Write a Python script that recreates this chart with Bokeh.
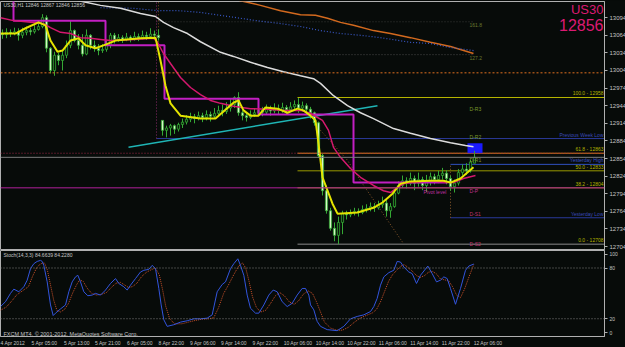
from bokeh.plotting import figure
from bokeh.models import Range1d, FixedTicker, Label, ColumnDataSource, Span
from bokeh.layouts import column
from bokeh.embed import file_html
from bokeh.resources import INLINE

# ---------------- data ----------------
symbol_title = "US30,H1  12846 12867 12846 12856"
symbol = "US30"
last_price = 12856

bar_open = [13066, 13065, 13069, 13067, 13070, 13064, 13069, 13072, 13070, 13074,
            13079, 13094, 13042, 13004, 13030, 13021, 13030, 13047, 13072, 13055,
            13047, 13032, 13064, 13047, 13042, 13038, 13040, 13047, 13064, 13057,
            13060, 13057, 13061, 13058, 13062, 13060, 13064, 13062, 13066, 13064,
            12919, 12902, 12906, 12910, 12904, 12912, 12916, 12921, 12925, 12922,
            12927, 12924, 12929, 12926, 12931, 12936, 12934, 12940, 12946, 12958,
            12932, 12927, 12924, 12929, 12932, 12936, 12933, 12938, 12935, 12939,
            12936, 12941, 12937, 12942, 12946, 12940, 12944, 12938, 12932, 12915,
            12859, 12799, 12765, 12735, 12723, 12745, 12760, 12758, 12762, 12764,
            12762, 12767, 12769, 12772, 12770, 12775, 12778, 12765, 12772, 12795,
            12808, 12816, 12812, 12820, 12812, 12818, 12808, 12815, 12823, 12818,
            12825, 12829, 12820, 12806, 12812, 12830, 12836, 12833, 12846]
bar_high = [13074, 13076, 13074, 13077, 13076, 13077, 13079, 13077, 13083, 13089,
            13100, 13098, 13044, 13036, 13034, 13038, 13055, 13089, 13074, 13066,
            13066, 13074, 13066, 13055, 13049, 13049, 13055, 13068, 13068, 13066,
            13064, 13068, 13064, 13070, 13067, 13072, 13070, 13076, 13072, 13074,
            12919, 12910, 12913, 12912, 12915, 12922, 12928, 12932, 12930, 12934,
            12932, 12936, 12934, 12940, 12944, 12946, 12950, 12955, 12960, 12967,
            12936, 12932, 12936, 12940, 12944, 12942, 12946, 12944, 12948, 12946,
            12949, 12945, 12950, 12953, 12957, 12951, 12948, 12942, 12934, 12917,
            12862, 12808, 12770, 12745, 12755, 12765, 12765, 12767, 12770, 12769,
            12774, 12776, 12779, 12778, 12782, 12789, 12786, 12778, 12800, 12815,
            12825, 12822, 12830, 12825, 12830, 12823, 12826, 12830, 12828, 12833,
            12838, 12834, 12825, 12818, 12836, 12844, 12846, 12852, 12867]
bar_low = [13058, 13059, 13061, 13064, 13055, 13059, 13064, 13064, 13067, 13072,
           13076, 13035, 12999, 12995, 13013, 13004, 13025, 13042, 13052, 13040,
           13028, 13030, 13040, 13036, 13030, 13034, 13036, 13042, 13050, 13053,
           13051, 13054, 13052, 13055, 13054, 13057, 13056, 13058, 13057, 13055,
           12893, 12890, 12893, 12896, 12900, 12906, 12912, 12916, 12914, 12919,
           12916, 12919, 12917, 12922, 12927, 12926, 12930, 12934, 12940, 12927,
           12919, 12917, 12921, 12925, 12929, 12926, 12930, 12927, 12931, 12929,
           12932, 12930, 12934, 12936, 12932, 12934, 12930, 12922, 12910, 12855,
           12791, 12760, 12731, 12713, 12708, 12725, 12750, 12754, 12757, 12755,
           12759, 12762, 12764, 12763, 12767, 12770, 12755, 12753, 12770, 12793,
           12804, 12803, 12808, 12800, 12806, 12800, 12797, 12808, 12810, 12812,
           12818, 12810, 12799, 12796, 12808, 12825, 12826, 12830, 12846]
bar_close = [13065, 13069, 13067, 13070, 13064, 13069, 13072, 13070, 13074, 13079,
             13094, 13042, 13004, 13030, 13021, 13030, 13047, 13072, 13055, 13047,
             13032, 13064, 13047, 13042, 13038, 13040, 13047, 13064, 13057, 13060,
             13057, 13061, 13058, 13062, 13060, 13064, 13062, 13066, 13064, 13060,
             12902, 12906, 12910, 12904, 12912, 12916, 12921, 12925, 12922, 12927,
             12924, 12929, 12926, 12931, 12936, 12934, 12940, 12946, 12958, 12932,
             12927, 12924, 12929, 12932, 12936, 12933, 12938, 12935, 12939, 12936,
             12941, 12937, 12942, 12946, 12940, 12944, 12938, 12932, 12915, 12859,
             12799, 12765, 12735, 12723, 12745, 12760, 12758, 12762, 12764, 12762,
             12767, 12769, 12772, 12770, 12775, 12778, 12765, 12772, 12795, 12808,
             12816, 12812, 12820, 12812, 12818, 12808, 12815, 12823, 12818, 12825,
             12829, 12820, 12806, 12812, 12830, 12836, 12833, 12848, 12856]

# fast MA (yellow)
yel_x = [-0.5, 3.25, 5.75, 9, 10.75, 12, 13.75, 15, 17, 19, 20.75, 23.25, 25.75, 28.25, 34.5,
         38.25, 39.5, 40.75, 42, 44.5, 49.5, 53.25, 57.75, 59, 60.25, 62, 64, 65.75, 68.75,
         71.25, 73.75, 75.25, 77, 78.25, 79, 80, 82.5, 83.75, 88.75, 92.75, 95, 97.5, 99.5,
         102, 107, 110.25, 112, 114.5, 117.75]
yel_y = [13067, 13067, 13076, 13086, 13081, 13055, 13036, 13038, 13055, 13059, 13047, 13042,
         13048, 13055, 13059, 13060, 13021, 12978, 12948, 12927, 12922, 12922, 12949, 12953,
         12936, 12927, 12927, 12941, 12939, 12932, 12939, 12936, 12927, 12919, 12880, 12822,
         12777, 12760, 12762, 12770, 12779, 12794, 12811, 12815, 12816, 12816, 12813, 12820,
         12839]
# medium MA (crimson)
cr_x = [-0.5, 2.75, 7.75, 10.25, 12, 14.5, 17, 19.5, 22, 24.5, 27, 32.75, 37.75, 38.75, 40.25,
        42, 44.5, 47, 49.5, 52, 54.5, 57.75, 62, 66.25, 70.25, 74.5, 77, 78.25, 80, 81.5,
        82.75, 84.5, 87, 89.5, 92.75, 95.25, 97, 98.75, 100.25, 102, 107, 111.25, 112.75,
        115.25, 118.25]
cr_y = [13094, 13089, 13086, 13084, 13077, 13069, 13067, 13060, 13059, 13057, 13055, 13057,
        13059, 13052, 13033, 13016, 12992, 12975, 12963, 12953, 12948, 12943, 12939, 12938,
        12936, 12936, 12931, 12926, 12919, 12902, 12873, 12856, 12837, 12822, 12808, 12799,
        12796, 12805, 12811, 12813, 12816, 12813, 12813, 12820, 12825]
# slow MA (white)
wh_x = [15, 19, 24.5, 29.5, 34.5, 38.25, 40.25, 42.75, 46.25, 49.5, 54.5, 57.75, 62, 66.25,
        70.25, 74.5, 77.75, 79.5, 82.75, 86.25, 89.5, 92.75, 97.75, 102, 107, 112, 115.75,
        117.75]
wh_y = [13130, 13123, 13115, 13110, 13101, 13096, 13086, 13077, 13067, 13053, 13035, 13028,
        13018, 13009, 13002, 12995, 12990, 12982, 12961, 12944, 12932, 12922, 12905, 12897,
        12888, 12881, 12876, 12874]
# very slow MA (orange)
or_x = [55, 59.5, 64.5, 69.5, 74.5, 78.25, 81.25, 84.5, 87.75, 92.75, 97, 102, 107, 112, 117.75]
or_y = [13130, 13123, 13115, 13106, 13099, 13098, 13093, 13086, 13081, 13072, 13067, 13060,
        13052, 13045, 13033]
# dotted blue MA
bl_x = [24.5, 32.75, 38.75, 43.75, 49.5, 54.5, 59.5, 64.5, 69.5, 74.5, 79.5, 84.5, 89.5,
        94.5, 102, 107, 112, 117.75]
bl_y = [13111, 13110, 13106, 13106, 13103, 13098, 13093, 13088, 13084, 13079, 13072, 13067,
        13064, 13060, 13052, 13050, 13043, 13038]
# higher-timeframe step line (magenta)
mg_x = [2.75, 2.75, 25.75, 25.75, 40.5, 40.5, 64, 64, 87.75, 87.75, 111.25]
mg_y = [13130, 13089, 13089, 13047, 13047, 12956, 12956, 12929, 12929, 12813, 12813]
# dotted brown curve
br_x = [79.5, 86.25, 89.5, 100.25]
br_y = [12902, 12851, 12816, 12709]
# trend line (cyan)
tl_x = [31.5, 93.75]
tl_y = [12873, 12944]

# levels
round_level = 13000
ask_level = 12863
pivot_level = 12804
prev_week_low = 12888
yest_high = 12844
yest_low = 12753
fib_names = ["0.0", "38.2", "50.0", "61.8", "100.0"]
fib_prices = [12708, 12804, 12833, 12863, 12958]
fib_anchor = 73.75
week_sep = 38.5
upper_prices = [13031, 13087]
upper_names = ["127.2", "161.8"]
pivot_names = ["D-R3", "D-R2", "D-R1", "D-P", "D-S1", "D-S2"]
pivot_prices = [12939, 12890, 12851, 12799, 12759, 12709]
yest_start = 112
box_x = [116.25, 120]
box_y = [12863, 12880]
price_ticks = [12704, 12734, 12764, 12794, 12824, 12854, 12884, 12914, 12944, 12974,
               13004, 13034, 13064, 13094]

# stochastic
st_x = [-0.5, 0.75, 2, 2.83, 4.08, 5.33, 6.17, 7, 7.83, 8.67,
        9.5, 9.92, 10.33, 11.17, 12, 12.67, 13.25, 14.5, 15.75, 16.58,
        17.42, 18.25, 18.83, 19.5, 20.33, 21.33, 22.42, 23.25, 24.5, 25.75,
        27, 28.25, 29.08, 30.33, 31.17, 32, 33.25, 34.5, 35.33, 36.58,
        37.42, 38.25, 39.08, 39.67, 40.33, 41.17, 42.83, 44.5, 46.17, 47.83,
        49.5, 51.17, 52.42, 53.67, 54.92, 55.75, 57, 57.83, 58.83, 59.5,
        60.33, 61.17, 62, 63.25, 64.08, 65.33, 66.58, 67.67, 68.67, 69.92,
        71.17, 72.42, 73.67, 74.92, 75.75, 76.58, 77, 77.83, 78.67, 79.5,
        81.17, 83.67, 85.33, 87, 88.67, 90.33, 92, 92.83, 93.67, 94.5,
        95.33, 96.58, 97.83, 98.67, 99.5, 100.33, 101.58, 102.42, 103.5, 104.5,
        106.33, 107.42, 108.5, 109.5, 110.33, 111.17, 112, 113.25, 114.5, 115.75,
        116.58, 117.83]
st_main = [34.4, 40.2, 50, 55, 51.9, 57.8, 65.6, 79.2, 85.1, 87.8,
           89, 87.8, 83.1, 63.6, 36.3, 23.8, 26.6, 31.6, 36.3, 51.9,
           63.6, 69.5, 71.4, 63.6, 51.9, 47.2, 48, 50, 48, 53.9,
           61.7, 67.5, 61.7, 57.8, 53.9, 59.7, 67.5, 75.3, 77.3, 78.4,
           83.1, 79.2, 55.8, 36.3, 18.8, 11, 12.9, 16, 17.6, 19.9,
           19.9, 20.7, 24.6, 51.9, 60.5, 63.6, 79.2, 85.1, 90.9, 83.1,
           71.4, 48, 32.4, 26.6, 26.6, 36.3, 48, 53.9, 51.9, 40.2,
           34.4, 38.3, 48, 55.8, 55.8, 48, 36.3, 30.5, 16.8, 11,
           7.1, 5.9, 11, 19.9, 22.7, 24.6, 28.5, 34.4, 44.1, 59.7,
           69.5, 74.5, 77.3, 87.8, 87, 81.2, 75.3, 73.4, 61.7, 71.4,
           82.3, 73.4, 63.6, 65.6, 69.5, 67.5, 55.8, 37.1, 55.8, 77.3,
           82.3, 84.66]
sg_x = [-0.5, 1, 2.5, 3.5, 5, 6.5, 7.5, 8.5, 9.5, 10.5,
        11.2, 12, 12.8, 13.6, 14.5, 15.5, 16.5, 17.5, 18.5, 19.3,
        20.2, 21.2, 22.3, 23.5, 24.8, 26, 27.2, 28.4, 29.5, 30.5,
        31.5, 32.5, 33.6, 34.8, 36, 37.2, 38.2, 39.2, 40, 40.8,
        41.8, 43, 44.8, 46.5, 48.2, 50, 51.5, 52.8, 54, 55.3,
        56.5, 57.8, 59, 60, 60.8, 61.6, 62.5, 63.5, 64.6, 65.8,
        67, 68.2, 69.3, 70.5, 71.7, 72.9, 74, 75.2, 76.4, 77.5,
        78.5, 79.5, 80.5, 82, 83.5, 85, 86.5, 88, 89.5, 91,
        92.5, 93.5, 94.5, 95.5, 96.5, 97.5, 98.5, 99.5, 100.5, 101.5,
        102.5, 103.5, 104.5, 105.5, 106.5, 107.5, 108.5, 109.5, 110.5, 111.5,
        112.5, 113.5, 114.5, 115.5, 116.5, 117.83]
st_signal = [30, 34, 42, 48, 53, 58, 70, 80, 85, 86,
             78, 60, 42, 30, 28, 31, 38, 50, 60, 66,
             64, 56, 50, 48, 49, 51, 57, 62, 63, 60,
             57, 58, 62, 70, 75, 78, 80, 72, 55, 35,
             20, 14, 14, 16, 18, 19.5, 20, 21, 33, 50,
             60, 72, 82, 86, 80, 65, 46, 33, 28, 30,
             38, 47, 51, 47, 40, 37, 41, 49, 53, 50,
             40, 28, 16, 9, 6.5, 6.5, 10, 16, 21, 24,
             27, 31, 40, 52, 64, 72, 77, 82, 84, 80,
             76, 71, 69, 71, 75, 76, 73, 67, 66, 65,
             58, 48, 45, 55, 68, 84.23]
stoch_title = "Stoch(14,3,3) 84.6639 84.2280"
copyright_text = "FXCM MT4, \u00a9 2001-2012, MetaQuotes Software Corp."
stoch_levels = [20, 80]
# time labels (positioned at the centre of each label's text)
time_ticks = [2.375, 10.5, 18.625, 26.375, 34.375, 42.25, 50.125, 57.875, 65.75, 73.875,
              81.875, 89.75, 97.625, 105.5, 113.375, 121.375]
time_labels = ["4 Apr 2012", "5 Apr 05:00", "5 Apr 13:00", "5 Apr 21:00", "6 Apr 05:00",
               "8 Apr 22:00", "9 Apr 06:00", "9 Apr 14:00", "9 Apr 22:00", "10 Apr 06:00",
               "10 Apr 14:00", "10 Apr 22:00", "11 Apr 06:00", "11 Apr 14:00", "11 Apr 22:00",
               "12 Apr 06:00"]

# ---------------- style ----------------
BG = "#070b09"
AX = "#b0b0b0"
TXT = "#c4c4c4"
FONT = "Liberation Sans"
WICK = "#34a834"
BEAR_FILL = "#d6f7c6"
BULL_FILL = "#0c180c"

x_rng = Range1d(-0.5, 150.5)


def add_label(fig, x, y, text, color, size="5px", align="left", baseline="middle",
              xo=0, yo=0, bg=None, pad=0):
    kw = {}
    if bg is not None:
        kw["background_fill_color"] = bg
        kw["padding"] = pad
    fig.add_layout(Label(x=x, y=y, text=text, text_color=color, text_font=FONT,
                         text_font_size=size, text_align=align, text_baseline=baseline,
                         x_offset=xo, y_offset=yo, **kw))


# ---------------- main price panel ----------------
p = figure(frame_width=604, frame_height=248, x_range=x_rng,
           y_range=Range1d(12698.9, 13121.6), output_backend="svg",
           toolbar_location=None, y_axis_location="right", x_axis_location=None,
           min_border_left=0, min_border_top=1, min_border_bottom=1, min_border_right=0,
           background_fill_color=BG, border_fill_color=BG, outline_line_color=AX)
p.grid.visible = False
ya = p.yaxis[0]
ya.ticker = FixedTicker(ticks=price_ticks)
ya.major_label_text_font = FONT
ya.major_label_text_font_size = "6px"
ya.major_label_text_color = TXT
ya.axis_line_color = AX
ya.major_tick_line_color = AX
ya.major_tick_in = 0
ya.major_tick_out = 3
ya.minor_tick_line_color = None
ya.major_label_standoff = 2

# full-width level lines
p.add_layout(Span(location=round_level, dimension="width", line_color="#e07020",
                  line_dash="2 2", line_width=1))
p.add_layout(Span(location=ask_level, dimension="width", line_color="#a02848",
                  line_dash="1 2", line_width=1))
p.add_layout(Span(location=last_price, dimension="width", line_color="#7c7c7c", line_width=1))
p.add_layout(Span(location=pivot_level, dimension="width", line_color="#b0209a", line_width=1))

# partial level lines
p.segment(x0=[week_sep, week_sep], y0=upper_prices, x1=[117.75, 117.75], y1=upper_prices,
          line_color=["#4a4a4a", "#3a3a3a"], line_dash="1 2", line_width=1)
p.segment(x0=[week_sep], y0=[prev_week_low], x1=[150.5], y1=[prev_week_low],
          line_color="#2a3a9a", line_width=1)
fib_cols = ["#8a8a8a", "#9a9a00", "#9a9a00", "#e0801a", "#b8b800"]
p.segment(x0=[fib_anchor] * 5, y0=fib_prices, x1=[150.5] * 5, y1=fib_prices,
          line_color=fib_cols, line_width=1)
p.segment(x0=[yest_start, yest_start], y0=[yest_high, yest_low], x1=[150.5, 150.5],
          y1=[yest_high, yest_low], line_color=["#3050c0", "#2a3a9a"], line_width=1)
p.segment(x0=[yest_start], y0=[yest_low], x1=[yest_start], y1=[yest_high],
          line_color="#8b5a2b", line_dash="1 2", line_width=1)
# week separators
p.segment(x0=[week_sep, week_sep + 0.5], y0=[prev_week_low, 13047], x1=[week_sep, week_sep + 0.5],
          y1=[13130, 13130], line_color=["#8a2a6a", "#7a4a20"], line_dash="1 2", line_width=1)

# blue box
p.quad(left=[box_x[0]], right=[box_x[1]], bottom=[box_y[0]], top=[box_y[1]],
       fill_color="#1a1aff", line_color=None)

# candles
idx = list(range(len(bar_close)))
tops = [max(o, c) for o, c in zip(bar_open, bar_close)]
bots = [min(o, c) for o, c in zip(bar_open, bar_close)]
fills = [BULL_FILL if c >= o else BEAR_FILL for o, c in zip(bar_open, bar_close)]
cs = ColumnDataSource(dict(x=idx, high=bar_high, low=bar_low, top=tops, bottom=bots, fill=fills))
p.segment(x0="x", y0="low", x1="x", y1="high", source=cs, line_color=WICK, line_width=1)
p.vbar(x="x", width=0.55, top="top", bottom="bottom", source=cs, fill_color="fill",
       line_color=WICK, line_width=0.8)

# trend line and moving averages
p.line(tl_x, tl_y, line_color="#1fb5b5", line_width=1.5)
p.line(or_x, or_y, line_color="#d2691e", line_width=1.5)
p.line(bl_x, bl_y, line_color="#3a5acc", line_width=1.2, line_dash="1 2")
p.line(wh_x, wh_y, line_color="#dcdcdc", line_width=1.5)
p.line(br_x, br_y, line_color="#8b5a2b", line_width=1, line_dash="1 2")
p.line(mg_x, mg_y, line_color="#c21fc2", line_width=2)
p.line(cr_x, cr_y, line_color="#d4186e", line_width=1.5)
p.line(yel_x, yel_y, line_color="#e4e400", line_width=2)

# texts
add_label(p, 0.25, 13114.8, symbol_title, TXT, "5px")
add_label(p, 150.25, 13108.8, symbol, "#dc1a72", "13px", align="right")
add_label(p, 150.25, 13080.7, str(last_price), "#dc1a72", "16px", align="right")
for name, pr in zip(fib_names, fib_prices):
    add_label(p, 150.25, pr, f"{name} - {pr}", "#b4b400", "5px", align="right",
              baseline="bottom", yo=1)
add_label(p, 150.25, prev_week_low, "Previous Week Low", "#3a4ab8", "5px", align="right",
          baseline="bottom", yo=1)
add_label(p, 150.25, yest_high, "Yesterday High", "#3a52c8", "5px", align="right",
          baseline="bottom", yo=1)
add_label(p, 150.25, yest_low, "Yesterday Low", "#3a4ab8", "5px", align="right",
          baseline="bottom", yo=1)
add_label(p, 105.25, pivot_level, "Pivot level", "#c030a0", "5px", baseline="top", yo=-1)
piv_cols = ["#7b9a2a", "#7b9a2a", "#7b9a2a", "#c03090", "#c03070", "#c03070"]
for name, pr, col in zip(pivot_names, pivot_prices, piv_cols):
    add_label(p, 116.75, pr, name, col, "5px")
for name, pr in zip(upper_names, upper_prices):
    add_label(p, 116.75, pr, name, "#6a7a30", "5px", baseline="top", yo=-1)

# price boxes on the axis
add_label(p, 150.5, round_level, str(round_level), "#000000", "5px", xo=2, bg="#e8801a", pad=1)
add_label(p, 150.5, ask_level, str(ask_level), "#ffffff", "5px", xo=2, bg="#e0306a", pad=1)
add_label(p, 150.5, last_price, str(last_price), "#000000", "5px", xo=2, yo=-1,
          bg="#ffffff", pad=1)
add_label(p, 150.5, pivot_level, str(pivot_level), "#ffffff", "5px", xo=2, bg="#c020c0", pad=1)

# ---------------- stochastic panel ----------------
s = figure(frame_width=604, frame_height=86, x_range=x_rng, y_range=Range1d(-1, 100.7),
           output_backend="svg", toolbar_location=None, y_axis_location="right",
           min_border_left=0, min_border_top=0, min_border_bottom=0, min_border_right=0,
           background_fill_color=BG, border_fill_color=BG, outline_line_color=AX)
s.grid.visible = False
sy = s.yaxis[0]
sy.ticker = FixedTicker(ticks=[3.6, 20, 80, 96])
sy.major_label_overrides = {3.6: "0", 20: "20", 80: "80", 96: "100"}
for ax in (sy, s.xaxis[0]):
    ax.major_label_text_font = FONT
    ax.major_label_text_font_size = "5px"
    ax.major_label_text_color = TXT
    ax.axis_line_color = AX
    ax.major_tick_line_color = AX
    ax.major_tick_in = 0
    ax.major_tick_out = 3
    ax.minor_tick_line_color = None
sy.major_label_standoff = 2
sx = s.xaxis[0]
sx.ticker = FixedTicker(ticks=time_ticks)
sx.major_label_overrides = {t: lab for t, lab in zip(time_ticks, time_labels)}
sx.major_tick_out = 0
sx.major_label_standoff = 3

for lv in stoch_levels:
    s.add_layout(Span(location=lv, dimension="width", line_color="#808080",
                      line_dash="1 2", line_width=1))
s.line(sg_x, st_signal, line_color="#c8502a", line_width=1, line_dash="1 1")
s.line(st_x, st_main, line_color="#3355dd", line_width=1)
add_label(s, 0.25, 94.8, stoch_title, TXT, "5px")
add_label(s, 0.25, 1.4, copyright_text, TXT, "5.5px")

layout = column(p, s, spacing=0, styles={"background-color": BG})
html = file_html(layout, INLINE)
html = html.replace("<body>", '<body style="margin:0;background:%s;">' % BG)
open("out.html", "w").write(html)
